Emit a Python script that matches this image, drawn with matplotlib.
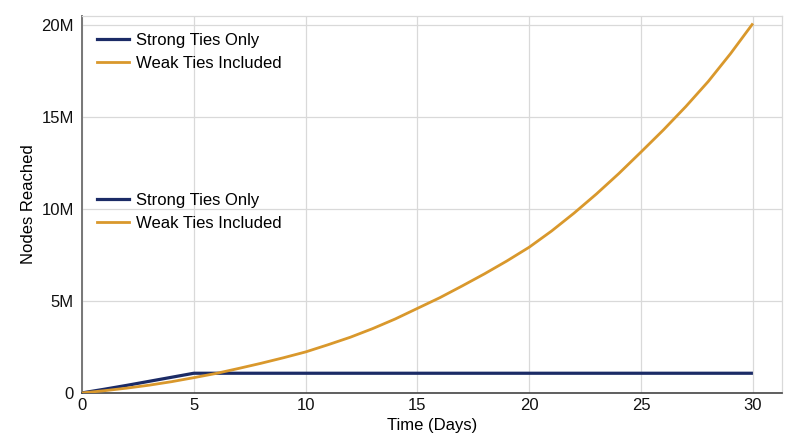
import matplotlib
matplotlib.use("Agg")
import matplotlib.pyplot as plt
from matplotlib.ticker import FuncFormatter
from matplotlib.lines import Line2D

plt.rcParams['font.family'] = ['Liberation Sans', 'DejaVu Sans']

# Data
days = list(range(0, 31))
strong_ties = [0, 0.20, 0.41, 0.63, 0.85, 1.07] + [1.07] * 25
weak_ties = [0, 0.12, 0.26, 0.42, 0.61, 0.83, 1.06, 1.33, 1.61, 1.91,
             2.23, 2.62, 3.03, 3.50, 4.02, 4.60, 5.18, 5.82, 6.48, 7.18,
             7.93, 8.81, 9.78, 10.82, 11.93, 13.11, 14.31, 15.58, 16.94, 18.46,
             20.10]
strong_ties = [v * 1e6 for v in strong_ties]
weak_ties = [v * 1e6 for v in weak_ties]

x_ticks = [0, 5, 10, 15, 20, 25, 30]
y_ticks = [0, 5e6, 10e6, 15e6, 20e6]

NAVY = '#1b2b66'
GOLD = '#d9982c'

fig = plt.figure(figsize=(8, 4.47), dpi=100)
ax = fig.add_axes([0.1025, 0.121, 0.875, 0.843])

ax.plot(days, strong_ties, color=NAVY, lw=2.3, solid_capstyle='butt',
        solid_joinstyle='round', zorder=3)
ax.plot(days, weak_ties, color=GOLD, lw=2.0, solid_capstyle='butt',
        solid_joinstyle='round', zorder=3)

ax.set_xlim(0, 31.3)
ax.set_ylim(0, 20.5e6)
ax.set_xticks(x_ticks)
ax.set_yticks(y_ticks)


def fmt_millions(v, pos):
    if v == 0:
        return '0'
    return f'{v / 1e6:.0f}M'


ax.yaxis.set_major_formatter(FuncFormatter(fmt_millions))
ax.tick_params(length=0, labelsize=12, colors='#111111')
ax.tick_params(axis='y', pad=6)
ax.tick_params(axis='x', pad=4)

ax.grid(True, color='#d9d9d9', lw=0.9, zorder=0)
ax.set_axisbelow(True)

for side in ['top', 'right']:
    ax.spines[side].set_color('#d9d9d9')
    ax.spines[side].set_linewidth(0.9)
ax.spines['left'].set_color('#777777')
ax.spines['left'].set_linewidth(1.4)
ax.spines['bottom'].set_color('#444444')
ax.spines['bottom'].set_linewidth(1.2)

ax.set_xlabel('Time (Days)', fontsize=12, labelpad=3)
ax.set_ylabel('Nodes Reached', fontsize=12, labelpad=4)

handles = [Line2D([0], [0], color=NAVY, lw=2.3),
           Line2D([0], [0], color=GOLD, lw=2.0)]
labels = ['Strong Ties Only', 'Weak Ties Included']

leg_kw = dict(loc='upper left', frameon=False, fontsize=12, handlelength=1.9,
              handletextpad=0.45, labelspacing=0.5, borderaxespad=0.5)
leg1 = ax.legend(handles, labels, bbox_to_anchor=(0.0, 0.996), **leg_kw)
ax.add_artist(leg1)
ax.legend(handles, labels, bbox_to_anchor=(0.0, 0.571), **leg_kw)

fig.savefig('out.png', dpi=100, facecolor='white')
